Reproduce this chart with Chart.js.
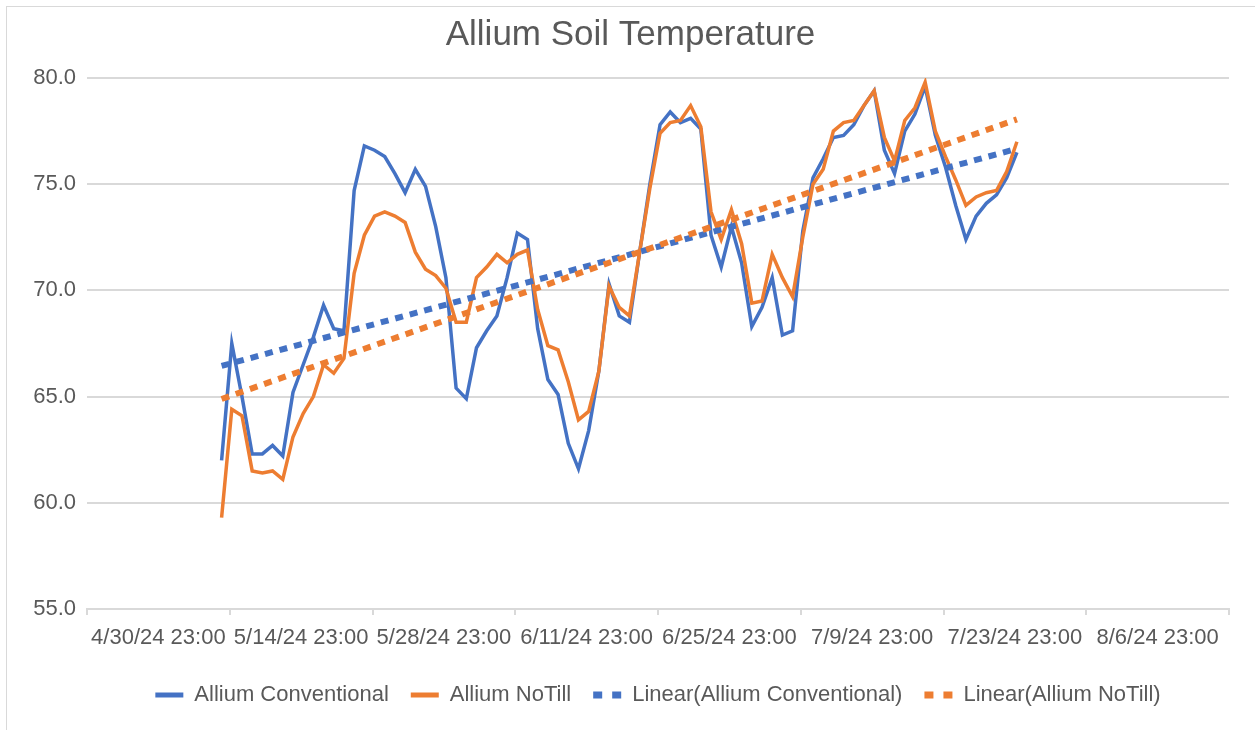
<!DOCTYPE html>
<html>
<head>
<meta charset="utf-8">
<script src="https://cdn.jsdelivr.net/npm/chart.js@4.4.1/dist/chart.umd.min.js"></script>
<style>
  html, body { margin: 0; padding: 0; background: #fff; }
  #frame { position: absolute; left: 6px; top: 6px; width: 1260px; height: 730px; border: 1px solid #d9d9d9; }
  #wrap { position: absolute; left: 0; top: 0; width: 1255px; height: 730px; }
</style>
</head>
<body>
<div id="frame"></div>
<div id="wrap"><canvas id="myChart" width="1255" height="730"></canvas></div>
<script>
// Daily readings, first one about 6 days after 4/30/24 23:00
const startDay = 6.2;
const conventional = [62.0, 67.5, 65.0, 62.3, 62.3, 62.7, 62.2, 65.2, 66.5, 67.8,
  69.3, 68.2, 68.1, 74.7, 76.8, 76.6, 76.3, 75.5, 74.6, 75.7,
  74.9, 73.0, 70.6, 65.4, 64.9, 67.3, 68.1, 68.8, 70.6, 72.7,
  72.4, 68.2, 65.8, 65.1, 62.8, 61.6, 63.4, 66.2, 70.3, 68.8,
  68.5, 71.8, 75.0, 77.8, 78.4, 77.9, 78.1, 77.6, 72.6, 71.1,
  73.0, 71.3, 68.3, 69.2, 70.6, 67.9, 68.1, 72.8, 75.3, 76.2,
  77.2, 77.3, 77.8, 78.7, 79.4, 76.6, 75.5, 77.5, 78.3, 79.6,
  77.3, 75.8, 74.0, 72.4, 73.5, 74.1, 74.5, 75.3, 76.5];
const noTill = [59.3, 64.4, 64.1, 61.5, 61.4, 61.5, 61.1, 63.1, 64.2, 65.0,
  66.5, 66.1, 66.8, 70.8, 72.6, 73.5, 73.7, 73.5, 73.2, 71.8,
  71.0, 70.7, 70.1, 68.5, 68.5, 70.6, 71.1, 71.7, 71.3, 71.7,
  71.9, 69.1, 67.4, 67.2, 65.7, 63.9, 64.3, 66.2, 70.2, 69.2,
  68.8, 71.8, 74.8, 77.4, 77.9, 78.0, 78.7, 77.7, 73.7, 72.4,
  73.8, 72.2, 69.4, 69.5, 71.7, 70.6, 69.7, 72.5, 75.0, 75.7,
  77.5, 77.9, 78.0, 78.7, 79.4, 77.2, 76.1, 78.0, 78.6, 79.8,
  77.5, 76.3, 75.2, 74.0, 74.4, 74.6, 74.7, 75.6, 77.0];
const tickLabels = ["4/30/24 23:00", "5/14/24 23:00", "5/28/24 23:00", "6/11/24 23:00",
  "6/25/24 23:00", "7/9/24 23:00", "7/23/24 23:00", "8/6/24 23:00"];
const tickDays = [0, 14, 28, 42, 56, 70, 84, 98];

const blue = "#4472C4";
const orange = "#ED7D31";
const textColor = "#595959";
const gridColor = "#d9d9d9";
const fontFamily = "'Liberation Sans', Arial, sans-serif";

function toPoints(values) {
  return values.map((v, i) => ({ x: startDay + i, y: v }));
}

// least squares trendline, like Excel's Linear trendline
function linearTrend(values) {
  const n = values.length;
  let sx = 0, sy = 0, sxy = 0, sxx = 0;
  values.forEach((v, i) => {
    const x = startDay + i;
    sx += x; sy += v; sxy += x * v; sxx += x * x;
  });
  const slope = (n * sxy - sx * sy) / (n * sxx - sx * sx);
  const intercept = (sy - slope * sx) / n;
  const x0 = startDay, x1 = startDay + n - 1;
  return [{ x: x0, y: intercept + slope * x0 }, { x: x1, y: intercept + slope * x1 }];
}

const data = {
  datasets: [
    {
      label: "Allium Conventional",
      data: toPoints(conventional),
      borderColor: blue,
      backgroundColor: blue,
      borderWidth: 3.5,
      pointRadius: 0,
      order: 4,
    },
    {
      label: "Allium NoTill",
      data: toPoints(noTill),
      borderColor: orange,
      backgroundColor: orange,
      borderWidth: 3.5,
      pointRadius: 0,
      order: 3,
    },
    {
      label: "Linear(Allium Conventional)",
      data: linearTrend(conventional),
      borderColor: blue,
      backgroundColor: blue,
      borderWidth: 6,
      borderDash: [8, 7],
      borderCapStyle: "butt",
      pointRadius: 0,
      order: 2,
    },
    {
      label: "Linear(Allium NoTill)",
      data: linearTrend(noTill),
      borderColor: orange,
      backgroundColor: orange,
      borderWidth: 6,
      borderDash: [8, 7],
      borderCapStyle: "butt",
      pointRadius: 0,
      order: 1,
    },
  ],
};

const config = {
  type: "line",
  data: data,
  options: {
    responsive: false,
    animation: false,
    layout: { padding: { left: 32, right: 26, top: 0, bottom: 14 } },
    plugins: {
      title: {
        display: true,
        text: "Allium Soil Temperature",
        color: textColor,
        font: { family: fontFamily, size: 35, weight: "normal" },
        padding: { top: 14, bottom: 22 },
      },
      legend: {
        position: "bottom",
        fullSize: false,
        labels: {
          color: textColor,
          font: { family: fontFamily, size: 22 },
          usePointStyle: true,
          pointStyle: "line",
          pointStyleWidth: 28,
          padding: 22,
          generateLabels: (chart) => chart.data.datasets.map((ds, i) => ({
            text: ds.label,
            fillStyle: ds.borderColor,
            strokeStyle: ds.borderColor,
            fontColor: textColor,
            lineWidth: ds.borderDash ? 7 : 5,
            lineDash: ds.borderDash ? [9, 10] : [],
            lineCap: "butt",
            pointStyle: "line",
            hidden: false,
            datasetIndex: i,
          })),
        },
      },
      tooltip: { enabled: false },
    },
    scales: {
      x: {
        type: "linear",
        min: -7,
        max: 105,
        afterFit: (scale) => { scale.height = 53; },
        afterBuildTicks: (scale) => { scale.ticks = tickDays.map((d) => ({ value: d })); },
        ticks: {
          color: textColor,
          font: { family: fontFamily, size: 22 },
          padding: 10,
          maxRotation: 0,
          autoSkip: false,
          callback: (value) => tickLabels[tickDays.indexOf(value)],
        },
        grid: {
          offset: true,
          drawOnChartArea: false,
          drawTicks: true,
          tickLength: 6,
          color: gridColor,
          lineWidth: 2,
        },
        border: { color: gridColor, width: 2 },
      },
      y: {
        min: 55,
        max: 80,
        afterFit: (scale) => { scale.width = 55; },
        ticks: {
          stepSize: 5,
          color: textColor,
          font: { family: fontFamily, size: 22 },
          padding: 11,
          callback: (value) => value.toFixed(1),
        },
        grid: { color: gridColor, lineWidth: 2, drawTicks: false },
        border: { display: false },
      },
    },
  },
};

let myChart = new Chart(document.getElementById("myChart").getContext("2d"), config);
</script>
</body>
</html>
